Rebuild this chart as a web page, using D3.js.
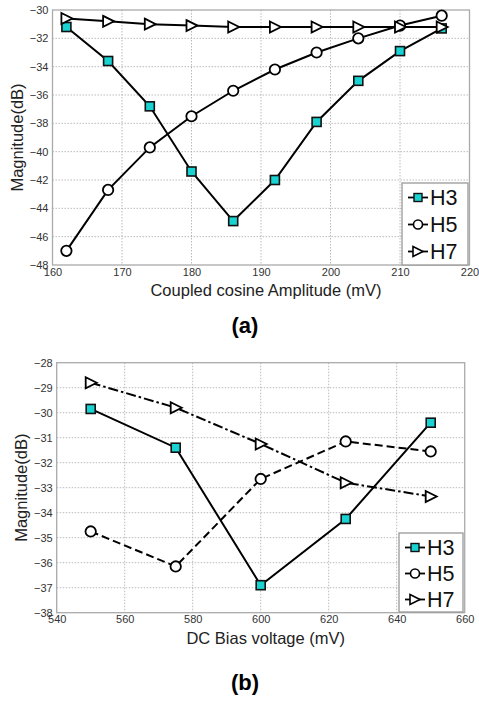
<!DOCTYPE html>
<html>
<head>
<meta charset="utf-8">
<script src="https://cdn.jsdelivr.net/npm/d3@7"></script>
<style>
  body { margin: 0; background: #fff; }
  svg { display: block; font-family: "Liberation Sans", Arial, sans-serif; }
</style>
</head>
<body>
<div id="chart"></div>
<script>
// panel (a)
const ampX = [162, 168, 174, 180, 186, 192, 198, 204, 210, 216];
const ampH3 = [-31.2, -33.6, -36.8, -41.4, -44.9, -42.0, -37.9, -35.0, -32.9, -31.3];
const ampH5 = [-47.0, -42.7, -39.7, -37.5, -35.7, -34.2, -33.0, -32.0, -31.1, -30.4];
const ampH7 = [-30.6, -30.8, -31.0, -31.1, -31.2, -31.2, -31.2, -31.2, -31.2, -31.2];
const ampXTicks = [160, 170, 180, 190, 200, 210, 220];
const ampYTicks = [-48, -46, -44, -42, -40, -38, -36, -34, -32, -30];

// panel (b)
const biasX = [550, 575, 600, 625, 650];
const biasH3 = [-29.85, -31.4, -36.9, -34.25, -30.4];
const biasH5 = [-34.75, -36.15, -32.65, -31.15, -31.55];
const biasH7 = [-28.8, -29.8, -31.25, -32.8, -33.35];
const biasXTicks = [540, 560, 580, 600, 620, 640, 660];
const biasYTicks = [-38, -37, -36, -35, -34, -33, -32, -31, -30, -29, -28];

const seriesNames = ["H3", "H5", "H7"];

const W = 479, H = 703;
const FONT = "'Liberation Sans', Arial, sans-serif";
const svg = d3.select("#chart").append("svg").attr("width", W).attr("height", H)
  .attr("font-family", FONT);

function marker(g, name, x, y) {
  if (name === "H3") {
    g.append("rect").attr("x", x - 4.5).attr("y", y - 4.5).attr("width", 9).attr("height", 9)
      .attr("fill", "#19d3d3").attr("stroke", "#111").attr("stroke-width", 1.6);
  } else if (name === "H5") {
    g.append("circle").attr("cx", x).attr("cy", y).attr("r", 5.2)
      .attr("fill", "#fff").attr("stroke", "#000").attr("stroke-width", 1.8);
  } else {
    g.append("path").attr("d", `M${x - 5},${y - 5.5}L${x + 6},${y}L${x - 5},${y + 5.5}Z`)
      .attr("fill", "#fff").attr("stroke", "#000").attr("stroke-width", 1.8);
  }
}

function panel(opt) {
  const x = d3.scaleLinear().domain(opt.xDomain).range([opt.left, opt.right]);
  const y = d3.scaleLinear().domain(opt.yDomain).range([opt.bottom, opt.top]);
  const g = svg.append("g");

  // grid
  g.append("g").selectAll("line").data(opt.xTicks.slice(1, -1)).join("line")
    .attr("x1", d => x(d)).attr("x2", d => x(d)).attr("y1", opt.top).attr("y2", opt.bottom)
    .attr("stroke", "#aaa").attr("stroke-width", 0.8).attr("stroke-dasharray", "1.5,1.5");
  g.append("g").selectAll("line").data(opt.yTicks.slice(1, -1)).join("line")
    .attr("x1", opt.left).attr("x2", opt.right).attr("y1", d => y(d)).attr("y2", d => y(d))
    .attr("stroke", "#aaa").attr("stroke-width", 0.8).attr("stroke-dasharray", "1.5,1.5");

  // frame
  g.append("rect").attr("x", opt.left).attr("y", opt.top)
    .attr("width", opt.right - opt.left).attr("height", opt.bottom - opt.top)
    .attr("fill", "none").attr("stroke", "#aaa").attr("stroke-width", 1.3);

  // axes
  const xa = g.append("g").attr("transform", `translate(0,${opt.bottom})`)
    .call(d3.axisBottom(x).tickValues(opt.xTicks).tickSize(0).tickPadding(3));
  const ya = g.append("g").attr("transform", `translate(${opt.left},0)`)
    .call(d3.axisLeft(y).tickValues(opt.yTicks).tickSize(0).tickPadding(4).tickFormat(d3.format("d")));
  [xa, ya].forEach(a => {
    a.attr("font-family", FONT);
    a.select(".domain").remove();
    a.selectAll("text").attr("font-size", 11).attr("fill", "#333");
  });

  // axis labels
  g.append("text").attr("x", (opt.left + opt.right) / 2 + 5).attr("y", opt.bottom + 31)
    .attr("text-anchor", "middle").attr("font-size", 16.5).attr("fill", "#222").text(opt.xLabel);
  g.append("text").attr("transform", `translate(${opt.left - 30},${(opt.top + opt.bottom) / 2}) rotate(-90)`)
    .attr("text-anchor", "middle").attr("font-size", 16.5).attr("fill", "#222").text("Magnitude(dB)");

  // series
  const line = d3.line().x(d => x(d[0])).y(d => y(d[1]));
  opt.series.forEach((s, i) => {
    const pts = opt.xs.map((v, k) => [v, s[k]]);
    g.append("path").datum(pts).attr("d", line).attr("fill", "none")
      .attr("stroke", "#000").attr("stroke-width", 2)
      .attr("stroke-dasharray", opt.dashes[i]);
  });
  opt.series.forEach((s, i) => {
    opt.xs.forEach((v, k) => marker(g, seriesNames[i], x(v), y(s[k])));
  });

  // legend
  const L = opt.legend;
  g.append("rect").attr("x", L.x).attr("y", L.y).attr("width", L.w).attr("height", L.h)
    .attr("fill", "#fff").attr("stroke", "#999").attr("stroke-width", 1.3);
  seriesNames.forEach((n, i) => {
    const cy = L.y + 14.5 + i * L.step;
    const lx = L.x + 6;
    g.append("line").attr("x1", lx).attr("x2", lx + 20).attr("y1", cy).attr("y2", cy)
      .attr("stroke", "#000").attr("stroke-width", 1.8);
    if (n === "H3") {
      g.append("rect").attr("x", lx + 6).attr("y", cy - 4).attr("width", 8).attr("height", 8)
        .attr("fill", "#19d3d3").attr("stroke", "#111").attr("stroke-width", 1.4);
    } else if (n === "H5") {
      g.append("circle").attr("cx", lx + 10).attr("cy", cy).attr("r", 4.5)
        .attr("fill", "#fff").attr("stroke", "#000").attr("stroke-width", 1.6);
    } else {
      g.append("path").attr("d", `M${lx + 5},${cy - 5}L${lx + 15},${cy}L${lx + 5},${cy + 5}Z`)
        .attr("fill", "#fff").attr("stroke", "#000").attr("stroke-width", 1.6);
    }
    g.append("text").attr("x", lx + 22).attr("y", cy + 7.5).attr("font-size", 21.5)
      .attr("fill", "#111").text(n);
  });

  // panel tag
  svg.append("text").attr("x", 245).attr("y", opt.tagY).attr("text-anchor", "middle")
    .attr("font-size", 22).attr("font-weight", "bold").text(opt.tag);
}

panel({
  xDomain: [160, 220], yDomain: [-48, -30],
  left: 52.5, right: 469.5, top: 10, bottom: 265,
  xTicks: ampXTicks, yTicks: ampYTicks,
  xs: ampX, series: [ampH3, ampH5, ampH7],
  dashes: [null, null, null],
  xLabel: "Coupled cosine Amplitude (mV)",
  legend: { x: 402, y: 183, w: 66, h: 82, step: 27 },
  tag: "(a)", tagY: 333
});

panel({
  xDomain: [540, 660], yDomain: [-38, -28],
  left: 56.7, right: 464.7, top: 362.7, bottom: 612.7,
  xTicks: biasXTicks, yTicks: biasYTicks,
  xs: biasX, series: [biasH3, biasH5, biasH7],
  dashes: [null, "8,4", "10,3,2.5,3"],
  xLabel: "DC Bias voltage (mV)",
  legend: { x: 399, y: 533, w: 64, h: 79, step: 26 },
  tag: "(b)", tagY: 690
});
</script>
</body>
</html>
